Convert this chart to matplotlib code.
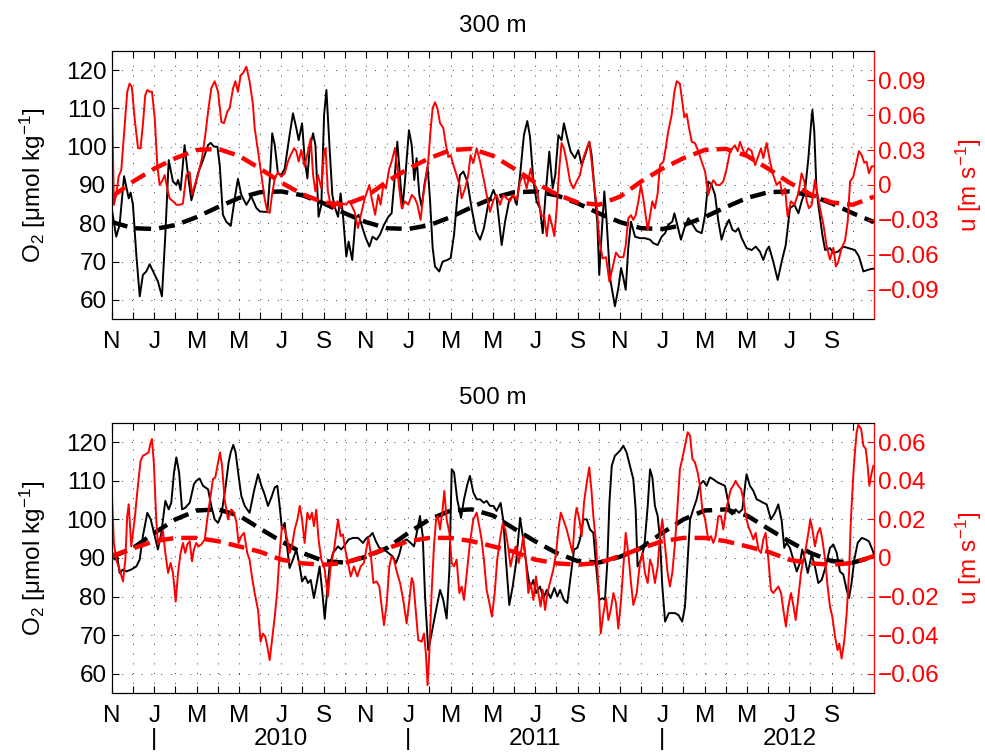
import matplotlib
matplotlib.use('Agg')
import matplotlib.pyplot as plt
import matplotlib.transforms as mtransforms
import numpy as np

plt.rcParams['font.family'] = ['Liberation Sans', 'DejaVu Sans']
plt.rcParams['mathtext.fontset'] = 'custom'
plt.rcParams['mathtext.rm'] = 'Liberation Sans'
plt.rcParams['mathtext.it'] = 'Liberation Sans:italic'
plt.rcParams['font.size'] = 17.5

# time axis: months since 1 Nov 2009
month_labels = ['N', '', 'J', '', 'M', '', 'M', '', 'J', '', 'S', ''] * 3
years = ['2010', '2011', '2012']
year_pos = [8, 20, 32]
year_sep = [2, 14, 26]
fit_t = np.arange(37)

# ---- 300 m ----
o2_300_t = [0.0, 0.2, 0.36, 0.57, 0.79, 0.88, 0.99, 1.15, 1.31, 1.46, 1.62, 1.78, 2.02, 2.17, 2.36, 2.52,
            2.68, 2.88, 3.04, 3.12, 3.24, 3.43, 3.59, 3.75, 3.94, 4.06, 4.3, 4.54, 4.66, 4.82, 4.98, 5.09,
            5.24, 5.4, 5.61, 5.8, 5.95, 6.11, 6.35, 6.58, 6.82, 6.98, 7.34, 7.45, 7.57, 7.69, 7.84, 8.0,
            8.16, 8.39, 8.55, 8.71, 8.82, 8.98, 9.1, 9.23, 9.34, 9.5, 9.61, 9.76, 9.89, 10.02, 10.13, 10.28,
            10.41, 10.52, 10.68, 10.8, 10.91, 11.07, 11.18, 11.35, 11.51, 11.65, 11.86, 12.0, 12.16, 12.31,
            12.5, 12.66, 12.85, 13.06, 13.21, 13.34, 13.48, 13.61, 13.72, 13.84, 14.03, 14.16, 14.28, 14.39,
            14.52, 14.63, 14.76, 14.91, 15.02, 15.15, 15.26, 15.46, 15.62, 15.84, 16.0, 16.16, 16.31, 16.44,
            16.6, 16.79, 16.99, 17.2, 17.39, 17.57, 17.78, 18.02, 18.17, 18.41, 18.57, 18.77, 18.96, 19.12,
            19.28, 19.46, 19.62, 19.75, 19.91, 20.06, 20.22, 20.35, 20.47, 20.66, 20.82, 20.94, 21.09, 21.24,
            21.35, 21.51, 21.67, 21.87, 22.03, 22.19, 22.35, 22.55, 22.66, 22.79, 22.93, 23.02, 23.13, 23.26,
            23.37, 23.53, 23.76, 23.92, 24.05, 24.16, 24.27, 24.39, 24.52, 24.71, 24.94, 25.18, 25.42, 25.57,
            25.78, 25.97, 26.13, 26.28, 26.47, 26.57, 26.76, 26.88, 27.04, 27.23, 27.39, 27.62, 27.86, 28.02,
            28.17, 28.33, 28.49, 28.65, 28.8, 28.96, 29.15, 29.31, 29.46, 29.59, 29.75, 29.98, 30.22, 30.41,
            30.61, 30.77, 30.93, 31.04, 31.24, 31.45, 31.64, 31.83, 32.03, 32.24, 32.43, 32.58, 32.74, 32.9,
            33.01, 33.09, 33.18, 33.28, 33.37, 33.56, 33.69, 33.92, 34.08, 34.31, 34.55, 34.79, 35.1, 35.29,
            35.5, 35.7, 35.89, 36.0]
o2_300 = [83.4, 76.5, 79.6, 92.3, 86.5, 88.0, 84.8, 71.7, 60.9, 66.5, 67.4, 69.3, 66.5, 64.8, 60.9, 77.0,
          96.5, 90.9, 90.0, 91.3, 88.7, 100.4, 92.6, 86.0, 90.0, 93.0, 96.5, 100.4, 101.0, 100.0, 100.0, 95.2,
          82.2, 80.4, 79.3, 86.5, 91.6, 87.4, 84.8, 87.0, 84.0, 83.1, 82.9, 90.9, 103.5, 100.4, 93.0, 92.6,
          94.3, 103.0, 108.7, 104.8, 101.7, 106.1, 97.0, 91.7, 99.6, 103.5, 100.4, 81.7, 84.8, 108.3, 114.8, 99.6,
          87.4, 84.3, 81.7, 87.8, 82.2, 71.3, 75.2, 70.4, 81.3, 82.2, 78.3, 76.0, 73.9, 76.5,
          75.7, 77.0, 79.6, 81.7, 82.6, 90.9, 101.3, 91.7, 83.9, 90.9, 104.3, 100.4, 91.3, 97.0,
          87.4, 84.3, 90.0, 94.8, 86.5, 73.5, 68.7, 67.4, 70.0, 70.4, 70.9, 77.0, 86.5, 92.6,
          93.5, 90.9, 83.9, 77.8, 75.7, 78.7, 85.2, 88.7, 86.5, 74.3, 80.4, 86.1, 87.4, 84.8,
          92.6, 103.0, 106.7, 102.6, 90.9, 85.7, 83.9, 77.4, 86.5, 98.7, 89.1, 92.6, 103.0, 101.7,
          106.1, 102.2, 98.7, 97.0, 99.1, 95.2, 97.8, 101.3, 97.8, 89.1, 80.0, 66.5, 77.0, 88.3,
          80.4, 65.7, 58.3, 63.0, 68.3, 65.7, 62.6, 73.5, 80.4, 76.5, 76.1, 76.1, 75.7, 74.8,
          74.3, 76.5, 77.4, 79.6, 80.4, 82.6, 78.3, 75.7, 78.7, 81.3, 80.0, 78.0, 77.4, 82.2,
          90.9, 90.0, 87.4, 80.4, 75.7, 78.7, 80.9, 78.3, 77.8, 78.7, 76.1, 73.5, 73.0, 73.9,
          72.6, 70.4, 73.0, 73.9, 70.0, 65.2, 70.0, 74.3, 83.9, 84.8, 82.6, 85.7, 88.3, 97.0,
          104.8, 109.6, 103.9, 89.1, 84.8, 77.0, 73.0, 73.5, 72.2, 72.6, 73.9, 73.5, 73.0, 71.3,
          67.4, 67.8, 68.1, 68.1]

u_300_t = [0.0, 0.09, 0.2, 0.31, 0.44, 0.6, 0.72, 0.83, 0.94, 1.07, 1.23, 1.35, 1.46, 1.57, 1.67, 1.78,
           1.89, 2.02, 2.14, 2.25, 2.36, 2.49, 2.61, 2.72, 2.88, 3.04, 3.2, 3.35, 3.51, 3.67, 3.78, 3.91,
           4.06, 4.25, 4.41, 4.54, 4.69, 4.85, 5.01, 5.17, 5.29, 5.45, 5.56, 5.72, 5.83, 5.95, 6.08, 6.19,
           6.35, 6.5, 6.66, 6.74, 6.9, 7.06, 7.21, 7.34, 7.45, 7.56, 7.69, 7.84, 8.0, 8.16, 8.31, 8.44,
           8.6, 8.71, 8.82, 8.94, 9.1, 9.26, 9.39, 9.5, 9.61, 9.73, 9.89, 10.02, 10.09, 10.2, 10.33, 10.49,
           10.65, 10.8, 10.91, 11.07, 11.18, 11.31, 11.46, 11.62, 11.78, 11.94, 12.16, 12.27, 12.43, 12.58,
           12.69, 12.82, 12.94, 13.1, 13.21, 13.37, 13.48, 13.57, 13.69, 13.84, 14.0, 14.16, 14.31, 14.43,
           14.58, 14.71, 14.83, 14.94, 15.06, 15.15, 15.26, 15.37, 15.5, 15.65, 15.78, 15.89, 16.0, 16.13,
           16.28, 16.44, 16.52, 16.68, 16.83, 16.94, 17.07, 17.23, 17.39, 17.54, 17.7, 17.86, 18.02, 18.17,
           18.33, 18.49, 18.65, 18.8, 18.96, 19.12, 19.28, 19.43, 19.59, 19.78, 19.91, 20.06, 20.19, 20.3,
           20.41, 20.54, 20.66, 20.77, 20.9, 21.01, 21.13, 21.24, 21.35, 21.48, 21.64, 21.8, 21.95, 22.11,
           22.27, 22.43, 22.55, 22.66, 22.79, 22.9, 23.02, 23.18, 23.34, 23.5, 23.65, 23.81, 23.97, 24.16,
           24.27, 24.39, 24.52, 24.63, 24.74, 24.87, 24.99, 25.1, 25.21, 25.31, 25.42, 25.53, 25.65, 25.78,
           25.89, 26.05, 26.16, 26.28, 26.44, 26.57, 26.68, 26.83, 26.94, 27.04, 27.15, 27.26, 27.39, 27.54,
           27.7, 27.86, 28.02, 28.17, 28.3, 28.41, 28.57, 28.72, 28.88, 29.04, 29.2, 29.31, 29.43, 29.56,
           29.67, 29.78, 29.91, 30.06, 30.22, 30.38, 30.5, 30.66, 30.77, 30.93, 31.09, 31.24, 31.4, 31.56,
           31.67, 31.8, 31.92, 32.08, 32.24, 32.43, 32.58, 32.71, 32.82, 32.93, 33.06, 33.21, 33.34, 33.45,
           33.61, 33.76, 33.92, 34.08, 34.2, 34.31, 34.47, 34.63, 34.76, 34.87, 35.02, 35.18, 35.29, 35.42,
           35.54, 35.65, 35.76, 35.89, 36.0]
u_300 = [0.074, -0.017, -0.0085, 0.007, 0.013, 0.052, 0.080, 0.087, 0.084, 0.057, 0.0315, 0.0315, 0.052, 0.077, 0.0815, 0.080,
         0.080, 0.057, 0.017, 0.0, 0.003, 0.0085, -0.003, -0.0115, -0.014, -0.017, -0.017, -0.016, 0.0085, 0.011, -0.0085, 0.0,
         0.0085, 0.023, 0.043, 0.063, 0.083, 0.089, 0.080, 0.054, 0.053, 0.063, 0.066, 0.083, 0.089, 0.080, 0.094, 0.096,
         0.1015, 0.089, 0.069, 0.049, 0.029, 0.0085, -0.0115, -0.023, -0.024, -0.0085, 0.0056, 0.011, 0.007, 0.010, 0.020, 0.0256,
         0.0315, 0.029, 0.020, 0.030, 0.016, 0.029, 0.040, 0.0085, -0.0056, 0.0085, -0.003, 0.029, 0.0315, -0.0056, -0.017, -0.020,
         -0.014, -0.020, -0.016, -0.017, -0.014, -0.017, -0.023, -0.037, -0.024, -0.0115, 0.0, -0.0115, -0.0256, -0.0085,
         -0.017, 0.0, -0.003, 0.014, 0.020, 0.0315, 0.014, -0.003, -0.020, -0.014, -0.017, -0.0085, -0.0115, -0.017,
         -0.030, -0.0085, 0.0056, 0.020, 0.049, 0.066, 0.071, 0.066, 0.053, 0.049, 0.034, 0.024, 0.0256, 0.017,
         0.0085, -0.0013, -0.0115, -0.003, 0.0085, 0.0256, 0.019, 0.0315, 0.020, 0.007, -0.0085, -0.023, -0.013, -0.0085,
         -0.017, -0.0085, -0.0115, -0.014, -0.0085, -0.013, 0.003, 0.0085, -0.003, 0.014, 0.003, -0.003, -0.017, -0.027,
         -0.0256, -0.044, -0.0256, -0.033, -0.044, -0.020, 0.014, 0.036, 0.0315, 0.020, 0.003, -0.003, 0.003, 0.0085,
         0.023, 0.0315, 0.037, 0.020, -0.003, -0.017, -0.047, -0.063, -0.062, -0.083, -0.071, -0.058, -0.062, -0.062,
         -0.052, -0.0286, -0.026, -0.030, -0.026, -0.014, 0.0, -0.0115, -0.026, -0.0385, -0.026, -0.014, -0.020, -0.007,
         0.017, 0.020, 0.0315, 0.046, 0.060, 0.080, 0.089, 0.087, 0.0715, 0.058, 0.061, 0.049, 0.037, 0.036,
         0.029, 0.020, 0.0115, -0.0085, 0.0, 0.004, 0.0, 0.0, 0.003, 0.014, 0.029, 0.0315, 0.034, 0.029,
         0.037, 0.0315, 0.0256, 0.0315, 0.029, 0.017, 0.023, 0.0315, 0.023, 0.036, 0.020, 0.0085, 0.0, 0.003,
         -0.0085, -0.003, -0.027, -0.014, -0.017, -0.007, 0.010, 0.003, -0.014, -0.020, -0.017, 0.0043, -0.0085, -0.020,
         -0.034, -0.052, -0.064, -0.054, -0.070, -0.066, -0.054, -0.048, -0.031, 0.003, 0.007, 0.020, 0.029, 0.0256,
         0.019, 0.020, 0.010, 0.016, 0.016]

o2_300_fit = [80.3, 78.7, 78.5, 79.5, 81.6, 84.2, 86.6, 88.1, 88.3, 87.3, 85.2, 82.6,
              80.3, 78.7, 78.5, 79.5, 81.6, 84.2, 86.6, 88.1, 88.3, 87.3, 85.2, 82.6,
              80.3, 78.7, 78.5, 79.5, 81.6, 84.2, 86.6, 88.1, 88.3, 87.3, 85.2, 82.6, 80.3]
u_300_fit = [-0.010, 0.003, 0.014, 0.023, 0.030, 0.031, 0.025, 0.014, 0.002, -0.008, -0.015, -0.017,
             -0.010, 0.003, 0.014, 0.023, 0.030, 0.031, 0.025, 0.014, 0.002, -0.008, -0.015, -0.017,
             -0.010, 0.003, 0.014, 0.023, 0.030, 0.031, 0.025, 0.014, 0.002, -0.008, -0.015, -0.017, -0.010]

# ---- 500 m ----
o2_500_t = [0.0, 0.13, 0.25, 0.36, 0.52, 0.68, 0.91, 1.15, 1.31, 1.46, 1.67, 1.83, 2.02, 2.17, 2.33, 2.52,
            2.68, 2.8, 2.93, 3.04, 3.17, 3.31, 3.46, 3.67, 3.87, 3.98, 4.14, 4.3, 4.41, 4.54, 4.69, 4.85,
            5.01, 5.17, 5.35, 5.51, 5.61, 5.73, 5.84, 5.98, 6.11, 6.27, 6.5, 6.71, 6.9, 7.06, 7.21, 7.37,
            7.53, 7.69, 7.81, 7.92, 8.03, 8.16, 8.27, 8.39, 8.55, 8.71, 8.87, 8.98, 9.13, 9.26, 9.39, 9.54,
            9.7, 9.81, 9.94, 10.05, 10.17, 10.28, 10.44, 10.68, 10.83, 11.02, 11.18, 11.39, 11.62, 11.86,
            12.03, 12.19, 12.31, 12.47, 12.63, 12.85, 13.06, 13.26, 13.42, 13.57, 13.73, 13.92, 14.11, 14.27,
            14.43, 14.55, 14.68, 14.79, 14.94, 15.1, 15.31, 15.5, 15.65, 15.81, 15.94, 16.05, 16.16, 16.31,
            16.49, 16.63, 16.79, 16.91, 17.07, 17.23, 17.39, 17.57, 17.7, 17.86, 18.02, 18.17, 18.36, 18.49,
            18.61, 18.77, 18.93, 19.09, 19.28, 19.43, 19.59, 19.75, 19.91, 20.03, 20.22, 20.38, 20.54, 20.72,
            20.9, 21.04, 21.17, 21.35, 21.51, 21.67, 21.83, 21.98, 22.11, 22.27, 22.43, 22.58, 22.74, 22.9,
            23.02, 23.18, 23.29, 23.4, 23.5, 23.61, 23.76, 24.0, 24.16, 24.31, 24.47, 24.63, 24.74, 24.83,
            24.99, 25.15, 25.31, 25.42, 25.53, 25.65, 25.78, 25.89, 26.0, 26.13, 26.31, 26.6, 26.76, 26.94,
            27.07, 27.2, 27.31, 27.46, 27.62, 27.78, 27.94, 28.09, 28.25, 28.41, 28.61, 28.8, 28.96, 29.09,
            29.21, 29.31, 29.46, 29.62, 29.78, 29.91, 29.98, 30.14, 30.3, 30.46, 30.61, 30.77, 30.93, 31.13,
            31.32, 31.48, 31.64, 31.76, 31.87, 32.03, 32.19, 32.35, 32.5, 32.61, 32.74, 32.87, 33.06, 33.21,
            33.37, 33.53, 33.72, 33.92, 34.08, 34.24, 34.39, 34.55, 34.71, 34.82, 34.94, 35.07, 35.23, 35.42,
            35.61, 35.76, 35.92, 36.0]
o2_500 = [91.7, 89.6, 90.4, 86.1, 87.0, 86.5, 87.0, 87.8, 89.6, 95.7, 101.7, 100.0, 95.7, 92.2, 96.5, 104.8,
          102.6, 104.3, 112.2, 116.1, 112.2, 102.6, 103.0, 104.3, 109.1, 110.0, 110.6, 108.7, 108.3, 107.8, 103.5, 100.0,
          99.1, 101.3, 107.8, 114.8, 117.4, 119.3, 117.4, 111.3, 106.1, 103.5, 101.7, 107.4, 111.7, 108.7, 106.5, 103.5,
          105.7, 108.3, 108.7, 103.5, 97.4, 99.1, 93.0, 87.4, 89.6, 92.2, 87.8, 83.9, 85.2, 83.5, 84.3, 79.6,
          84.3, 87.8, 80.9, 74.2, 81.7, 87.8, 91.3, 93.0, 92.2, 93.5, 94.8, 95.2, 95.2, 93.9,
          95.2, 95.7, 96.5, 94.3, 92.6, 92.2, 91.3, 90.4, 88.7, 90.9, 94.3, 94.8, 93.9, 93.0,
          97.4, 100.9, 95.7, 80.0, 66.1, 70.4, 76.5, 81.7, 79.1, 74.3, 87.0, 113.0, 112.2, 105.2,
          100.4, 105.2, 109.1, 111.3, 107.0, 105.2, 105.2, 104.3, 104.8, 103.5, 103.5, 102.2, 104.3, 99.6,
          89.6, 77.8, 82.6, 88.7, 100.4, 94.8, 87.8, 82.2, 84.3, 80.9, 82.6, 79.6, 81.7, 79.6,
          82.2, 80.0, 81.7, 79.1, 78.3, 85.2, 92.2, 92.6, 94.8, 100.0, 100.0, 97.4, 96.5, 86.1,
          79.1, 79.6, 79.1, 88.7, 104.3, 113.9, 116.5, 117.8, 119.1, 117.4, 113.9, 110.4, 102.6, 87.8,
          89.6, 93.0, 103.5, 113.0, 110.9, 103.5, 100.9, 94.8, 82.6, 73.5, 75.7, 75.7, 75.2, 73.5,
          77.4, 89.6, 100.0, 102.6, 105.2, 109.1, 110.0, 108.7, 110.9, 110.4, 109.6, 109.1, 108.7, 105.2,
          101.7, 101.3, 102.6, 101.7, 102.6, 108.7, 111.7, 108.7, 107.4, 105.2, 104.8, 104.3, 103.9, 100.0,
          101.7, 103.9, 99.6, 92.6, 93.9, 92.6, 89.6, 86.5, 88.7, 92.2, 89.6, 86.1, 90.9, 87.8,
          83.5, 84.3, 87.8, 92.6, 93.5, 91.3, 86.5, 85.7, 81.7, 79.6, 83.5, 89.6, 93.9, 95.2,
          94.8, 94.3, 92.2, 90.9]

u_500_t = [0.0, 0.09, 0.2, 0.36, 0.52, 0.63, 0.72, 0.79, 0.91, 1.07, 1.2, 1.35, 1.46, 1.62, 1.73, 1.81,
           1.89, 1.98, 2.09, 2.17, 2.3, 2.41, 2.52, 2.65, 2.77, 2.88, 3.01, 3.12, 3.24, 3.35, 3.46, 3.56,
           3.67, 3.78, 3.87, 3.98, 4.09, 4.22, 4.38, 4.5, 4.61, 4.77, 4.88, 5.01, 5.1, 5.2, 5.32, 5.48,
           5.64, 5.76, 5.87, 5.98, 6.11, 6.24, 6.39, 6.5, 6.61, 6.74, 6.9, 7.02, 7.13, 7.24, 7.34, 7.45,
           7.56, 7.69, 7.81, 7.92, 8.03, 8.16, 8.28, 8.39, 8.5, 8.63, 8.76, 8.87, 8.98, 9.1, 9.23, 9.34,
           9.45, 9.54, 9.65, 9.76, 9.89, 10.05, 10.2, 10.33, 10.49, 10.68, 10.8, 10.91, 11.02, 11.15, 11.28,
           11.43, 11.59, 11.75, 11.9, 12.11, 12.22, 12.35, 12.5, 12.63, 12.74, 12.85, 12.98, 13.1, 13.21,
           13.32, 13.45, 13.61, 13.76, 13.92, 14.05, 14.16, 14.24, 14.36, 14.47, 14.63, 14.74, 14.83, 14.91,
           14.99, 15.1, 15.21, 15.31, 15.39, 15.5, 15.62, 15.7, 15.81, 15.94, 16.05, 16.16, 16.28, 16.41,
           16.52, 16.63, 16.76, 16.91, 17.07, 17.23, 17.35, 17.46, 17.57, 17.7, 17.83, 17.95, 18.08, 18.2,
           18.33, 18.46, 18.58, 18.71, 18.83, 18.96, 19.09, 19.21, 19.34, 19.43, 19.56, 19.67, 19.78, 19.91,
           20.03, 20.14, 20.25, 20.35, 20.46, 20.57, 20.69, 20.85, 20.98, 21.09, 21.2, 21.32, 21.48, 21.64,
           21.76, 21.87, 21.95, 22.08, 22.19, 22.3, 22.43, 22.55, 22.66, 22.74, 22.87, 22.98, 23.09, 23.22,
           23.34, 23.45, 23.56, 23.69, 23.81, 23.92, 24.05, 24.16, 24.27, 24.39, 24.52, 24.63, 24.79, 24.94,
           25.06, 25.18, 25.31, 25.42, 25.53, 25.65, 25.78, 25.89, 26.0, 26.13, 26.25, 26.36, 26.47, 26.6,
           26.72, 26.83, 26.94, 27.07, 27.2, 27.31, 27.42, 27.54, 27.67, 27.78, 27.89, 28.02, 28.17, 28.3,
           28.41, 28.52, 28.65, 28.77, 28.88, 28.99, 29.12, 29.24, 29.35, 29.46, 29.59, 29.72, 29.83, 29.95,
           30.06, 30.19, 30.3, 30.41, 30.54, 30.66, 30.77, 30.88, 31.01, 31.13, 31.24, 31.35, 31.48, 31.61,
           31.72, 31.84, 31.95, 32.08, 32.2, 32.3, 32.43, 32.55, 32.66, 32.77, 32.9, 32.99, 33.09, 33.21,
           33.34, 33.45, 33.56, 33.69, 33.81, 33.92, 34.03, 34.16, 34.28, 34.36, 34.47, 34.6, 34.71, 34.82,
           34.91, 35.02, 35.1, 35.18, 35.26, 35.39, 35.5, 35.61, 35.7, 35.78, 35.86, 35.97]
u_500 = [0.0314, 0.0078, -0.0009, -0.006, -0.0122, -0.0009, 0.0217, 0.0278, 0.006, 0.020, 0.0348, 0.0504, 0.053, 0.054, 0.0548, 0.0591,
         0.0617, 0.0487, 0.020, 0.007, 0.0096, 0.014, 0.0026, -0.0078, -0.0026, -0.0078, -0.0226, -0.0078, 0.0026, 0.0078, 0.0026, 0.007,
         0.0087, -0.0017, 0.0044, 0.0078, 0.006, 0.007, 0.0096, 0.020, 0.0287, 0.0409, 0.0418, 0.0496, 0.0548, 0.0478, 0.0304, 0.020,
         0.0252, 0.0235, 0.0191, 0.0078, 0.0113, 0.013, 0.0026, -0.0009, -0.0096, -0.0182, -0.027, -0.0434, -0.0392, -0.0408, -0.046, -0.053,
         -0.0426, -0.0304, -0.0166, 0.0026, 0.0165, 0.0148, 0.0096, 0.0026, 0.006, 0.0148, 0.020, 0.027, 0.020, 0.0078, 0.0235, 0.020,
         0.0235, 0.0165, 0.025, 0.0096, -0.0009, -0.006, -0.020, -0.0044, 0.0044, 0.020, 0.0113, 0.0122, 0.0044, -0.0026, -0.0096,
         -0.0044, -0.0096, -0.0044, -0.0026, 0.0104, 0.0026, -0.013, -0.0122, -0.0148, -0.0252, -0.0348, -0.0234, -0.0044, 0.0008,
         -0.0008, -0.007, -0.013, -0.0218, -0.034, -0.0218, -0.0104, -0.013, -0.0286, -0.0426, -0.0434, -0.0392, -0.0496, -0.066,
         -0.0496, -0.0182, 0.006, 0.020, 0.0217, 0.0148, 0.0252, 0.0348, 0.020, 0.013, -0.0026, -0.0044, -0.0008, -0.0182,
         -0.0148, -0.0218, -0.0078, 0.0078, 0.020, 0.0235, 0.0165, 0.0096, -0.0008, -0.0166, -0.0234, -0.0304, -0.0182, -0.0008,
         0.0096, 0.018, 0.0148, 0.006, -0.0044, 0.0026, 0.006, -0.0026, 0.0044, 0.0113, -0.0026, -0.0182, -0.013, -0.0218,
         -0.0096, -0.0182, -0.0252, -0.0166, -0.027, -0.0182, -0.013, -0.006, 0.0026, 0.0148, 0.0235, 0.020, 0.0148, 0.0078,
         0.0026, 0.020, 0.026, 0.020, 0.0113, 0.0287, 0.0391, 0.047, 0.034, 0.0217, 0.0078, -0.0148, -0.0392, -0.0286,
         -0.0208, -0.0322, -0.027, -0.0182, -0.0234, -0.0366, -0.0218, -0.0044, 0.013, 0.0026, -0.013, -0.0244, -0.0182, -0.0026,
         0.0026, -0.0078, -0.013, -0.0008, -0.0044, -0.013, -0.0044, 0.0113, 0.020, 0.006, -0.0078, -0.0148, -0.0078, 0.0078,
         0.027, 0.046, 0.0513, 0.0582, 0.0652, 0.0634, 0.0513, 0.0496, 0.0443, 0.0374, 0.0252, 0.020, 0.0096, 0.0113,
         0.0078, 0.0113, 0.0217, 0.0217, 0.0148, 0.0235, 0.0304, 0.0357, 0.0374, 0.040, 0.0374, 0.0357, 0.0304, 0.0217,
         0.0165, 0.013, 0.0096, 0.013, 0.0044, 0.0026, 0.0096, 0.013, -0.0008, -0.0166, -0.0182, -0.0166, -0.0148, -0.0182,
         -0.027, -0.0356, -0.0252, -0.0182, -0.0252, -0.0322, -0.020, -0.0078, -0.0008, 0.0044, 0.013, 0.020, 0.0148, 0.006,
         0.013, 0.0156, 0.0096, -0.0008, -0.0148, -0.0252, -0.0304, -0.0408, -0.0478, -0.0444, -0.0522, -0.0426, -0.0286, -0.0078,
         0.020, 0.0426, 0.0548, 0.0652, 0.069, 0.067, 0.0582, 0.0566, 0.0478, 0.0374, 0.0426, 0.0478]

o2_500_fit = [90.3, 92.6, 96.5, 100.0, 102.3, 102.6, 101.0, 97.6, 94.3, 91.3, 89.2, 88.8,
              90.3, 92.6, 96.5, 100.0, 102.3, 102.6, 101.0, 97.6, 94.3, 91.3, 89.2, 88.8,
              90.3, 92.6, 96.5, 100.0, 102.3, 102.6, 101.0, 97.6, 94.3, 91.3, 89.2, 88.8, 90.3]
u_500_fit = [0.001, 0.005, 0.0087, 0.0104, 0.0104, 0.0087, 0.006, 0.0032, -0.0009, -0.0028, -0.0035, -0.0026,
             0.001, 0.005, 0.0087, 0.0104, 0.0104, 0.0087, 0.006, 0.0032, -0.0009, -0.0028, -0.0035, -0.0026,
             0.001, 0.005, 0.0087, 0.0104, 0.0104, 0.0087, 0.006, 0.0032, -0.0009, -0.0028, -0.0035, -0.0026, 0.001]

o2_ticks = [60, 70, 80, 90, 100, 110, 120]
u_ticks_300 = [-0.09, -0.06, -0.03, 0, 0.03, 0.06, 0.09]
u_labels_300 = ['\u22120.09', '\u22120.06', '\u22120.03', '0', '0.03', '0.06', '0.09']
u_ticks_500 = [-0.06, -0.04, -0.02, 0, 0.02, 0.04, 0.06]
u_labels_500 = ['\u22120.06', '\u22120.04', '\u22120.02', '0', '0.02', '0.04', '0.06']


def draw_panel(rect, title, o2_t, o2, u_t, u, o2_fit, u_fit, u_ticks, u_labels, u_lim):
    ax = fig.add_axes(rect)
    ax.plot(o2_t, o2, color='k', lw=1.4)
    ax.plot(fit_t, o2_fit, color='k', lw=3.2, dashes=(3.6, 1.8))
    ax.set_xlim(0, 36)
    ax.set_ylim(55, 125)
    ax.set_xticks(range(36))
    ax.set_xticklabels(month_labels)
    ax.set_yticks(o2_ticks)
    ax.grid(True, color='0.25', linestyle=(0, (1, 9)), linewidth=0.7)
    ax.tick_params(direction='in', length=5, top=True, right=False)
    ax.tick_params(axis='x', pad=9)
    ax.tick_params(axis='y', pad=4)
    ax.set_ylabel(r'O$_2$ [μmol kg$^{-1}$]', labelpad=13)
    ax.set_title(title, fontsize=17.5, pad=14)

    ax2 = ax.twinx()
    ax2.plot(u_t, u, color='r', lw=1.4)
    ax2.plot(fit_t, u_fit, color='r', lw=3.2, dashes=(3.6, 1.8))
    ax2.set_ylim(-u_lim, u_lim)
    ax2.set_yticks(u_ticks)
    ax2.set_yticklabels(u_labels)
    ax2.tick_params(axis='y', colors='r', direction='in', length=5, pad=3)
    ax2.spines['right'].set_color('r')
    ax2.set_ylabel(r'u [m s$^{-1}$]', color='r', labelpad=10)
    return ax


fig = plt.figure(figsize=(9.85, 7.54), dpi=100)

draw_panel([0.1137, 0.577, 0.7736, 0.3554], '300 m', o2_300_t, o2_300, u_300_t, u_300,
           o2_300_fit, u_300_fit, u_ticks_300, u_labels_300, 0.115)
ax_b = draw_panel([0.1137, 0.081, 0.7736, 0.358], '500 m', o2_500_t, o2_500, u_500_t, u_500,
                  o2_500_fit, u_500_fit, u_ticks_500, u_labels_500, 0.070)

trans = mtransforms.blended_transform_factory(ax_b.transData, ax_b.transAxes)
for yr, pos in zip(years, year_pos):
    ax_b.text(pos, -0.17, yr, transform=trans, ha='center', va='center')
for pos in year_sep:
    ax_b.text(pos, -0.17, '|', transform=trans, ha='center', va='center')

fig.savefig('out.png', dpi=100)
